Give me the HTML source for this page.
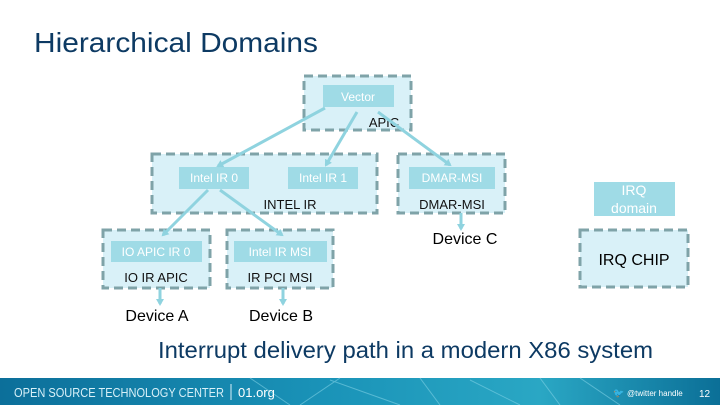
<!DOCTYPE html>
<html><head><meta charset="utf-8"><style>
html,body{margin:0;padding:0;background:#fff;}
svg{display:block;font-family:"Liberation Sans",Arial,sans-serif;}
</style></head><body>
<svg width="720" height="405" viewBox="0 0 720 405" xmlns="http://www.w3.org/2000/svg">
<defs>
<linearGradient id="ft" x1="0" x2="1" y1="0" y2="0">
<stop offset="0" stop-color="#0c6f9a"/><stop offset="0.45" stop-color="#1a93b8"/><stop offset="0.75" stop-color="#2aa7c4"/><stop offset="1" stop-color="#0b6f97"/>
</linearGradient>
<marker id="ah" markerWidth="8" markerHeight="8" refX="5" refY="4" orient="auto" markerUnits="userSpaceOnUse"><path d="M0,0 L7,4 L0,8 z" fill="#8fd3df"/></marker>
</defs>
<text x="34" y="52" font-size="28" fill="#0d3a63" textLength="284" lengthAdjust="spacingAndGlyphs">Hierarchical Domains</text>

<g fill="#d9f1f8" stroke="#7fa3a8" stroke-width="3" stroke-dasharray="9,5">
<rect x="304" y="76" width="107" height="54"/>
<rect x="152" y="154" width="225" height="59"/>
<rect x="398" y="154" width="107" height="59"/>
<rect x="103" y="230" width="107" height="58"/>
<rect x="227" y="230" width="106" height="58"/>
<rect x="580" y="230" width="108" height="57"/>
</g>
<g fill="#9fdbe6">
<rect x="323" y="85" width="71" height="22"/>
<rect x="179" y="167" width="70" height="22"/>
<rect x="288" y="167" width="70" height="22"/>
<rect x="409" y="167" width="86" height="22"/>
<rect x="111" y="241" width="91" height="21"/>
<rect x="234" y="241" width="93" height="21"/>
<rect x="594" y="182" width="81" height="34"/>
</g>
<g fill="#fff" font-size="12" text-anchor="middle">
<text x="358" y="101">Vector</text>
<text x="214" y="182">Intel IR 0</text>
<text x="323" y="182">Intel IR 1</text>
<text x="452" y="182">DMAR-MSI</text>
<text x="156" y="256">IO APIC IR 0</text>
<text x="280" y="256">Intel IR MSI</text>
<text x="634" y="195" font-size="14">IRQ</text>
<text x="634" y="213" font-size="14">domain</text>
</g>
<g fill="#111" font-size="13" text-anchor="middle">
<text x="384" y="127">APIC</text>
<text x="290" y="209">INTEL IR</text>
<text x="452" y="209">DMAR-MSI</text>
<text x="156" y="282">IO IR APIC</text>
<text x="280" y="282">IR PCI MSI</text>
</g>
<g fill="#000" font-size="16" text-anchor="middle">
<text x="157" y="321">Device A</text>
<text x="281" y="321">Device B</text>
<text x="465" y="244">Device C</text>
<text x="634" y="265">IRQ CHIP</text>
</g>
<g stroke="#8fd3df" stroke-width="3" fill="none" marker-end="url(#ah)">
<line x1="325" y1="108" x2="218" y2="166"/>
<line x1="357" y1="112" x2="326" y2="165"/>
<line x1="378" y1="112" x2="450" y2="165"/>
<line x1="208" y1="190" x2="163" y2="235"/>
<line x1="220" y1="190" x2="282" y2="235"/>
<line x1="461" y1="213" x2="461" y2="229"/>
<line x1="160" y1="288" x2="160" y2="304"/>
<line x1="283" y1="288" x2="283" y2="304"/>
</g>
<text x="158" y="358" font-size="23" fill="#0d3a63" textLength="495" lengthAdjust="spacingAndGlyphs">Interrupt delivery path in a modern X86 system</text>

<rect x="0" y="378" width="720" height="27" fill="url(#ft)"/>
<g stroke="#7fd0e4" stroke-width="1" opacity="0.6" fill="none">
<path d="M250,378 L290,405 M330,380 L400,405 M300,405 L340,378 M420,378 L440,405 M470,380 L520,405 M540,378 L560,405 M580,378 L620,405"/>
</g>
<text x="14" y="397" font-size="13" fill="#d8f0f8" textLength="210" lengthAdjust="spacingAndGlyphs">OPEN SOURCE TECHNOLOGY CENTER</text>
<line x1="231" y1="384" x2="231" y2="400" stroke="#d8f0f8"/>
<text x="238" y="397" font-size="13" fill="#fff">01.org</text>
<text x="613" y="396" font-size="9" fill="#fff">🐦</text>
<text x="627" y="396" font-size="8" fill="#fff">@twitter handle</text>
<text x="699" y="397" font-size="10" fill="#fff">12</text>
</svg>
</body></html>
